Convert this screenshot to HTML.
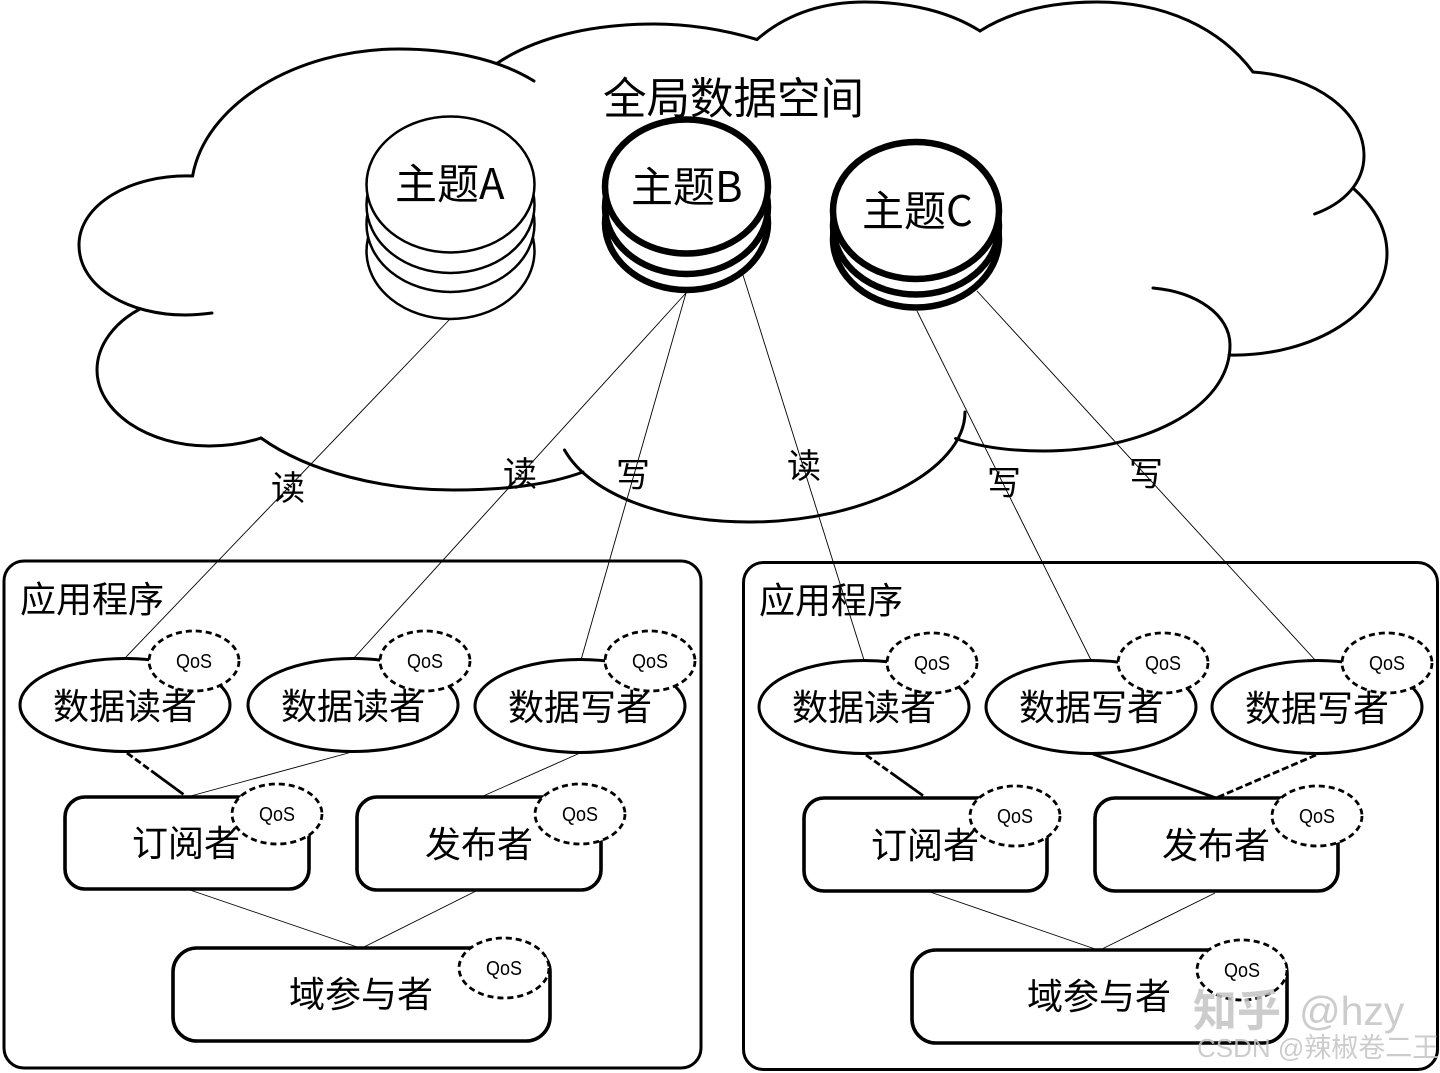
<!DOCTYPE html>
<html lang="zh">
<head>
<meta charset="utf-8">
<title>全局数据空间</title>
<style>
html,body{margin:0;padding:0;background:#fff;width:1440px;height:1073px;overflow:hidden}
svg{display:block}
text{font-family:"Liberation Sans","Noto Sans CJK SC",sans-serif;fill:#000}
.cjk{font-family:"Noto Sans CJK SC","Liberation Sans",sans-serif}
.q{font-size:20px;text-anchor:middle}
.o{fill:#fff;stroke:#000;stroke-width:3}
.r{fill:#fff;stroke:#000;stroke-width:3.6}
.d{fill:#fff;stroke:#000;stroke-width:2.8;stroke-dasharray:6 4}
.t{fill:none;stroke:#000;stroke-width:.9}
.c{fill:none;stroke:#000;stroke-width:3;stroke-linecap:round}
.n{font-size:36px}
.l{font-size:34px}
.wm{fill:#c4c4c4;opacity:.85}
</style>
</head>
<body>
<svg width="1440" height="1073" viewBox="0 0 1440 1073" xmlns="http://www.w3.org/2000/svg">
<rect width="1440" height="1073" fill="#fff"/>

<!-- cloud -->
<g class="c">
<path d="M534 81C495 57 445 49 399 49C295 49 205 105 192.600 176"/>
<path d="M192.600 176C130 174 79 205 79 245C79 288 130 315 185 315C195 315 204 314 212 313"/>
<path d="M140 309C115 322 97 345 97 370C97 412 148 446 209 446C228 446 246 443 261 438"/>
<path d="M261 438C310 473 385 490 453 490C500 490 545 486 583 472"/>
<path d="M564.500 450C590 495 665 522 750 522C865 522 965 470 965 412"/>
<path d="M955.600 438.500C980 447 1010 451 1043.600 451C1140 451 1230 410 1230 345C1230 315 1197 292 1153 288"/>
<path d="M1229 355C1315 357 1387 310 1387 253.500C1387 230 1375 208 1354 189"/>
<path d="M1314.600 214C1345 203 1364 182 1364 155.500C1364 112 1315 76 1253 72"/>
<path d="M1253 72C1220 28 1165 2 1097 2C1050 2 1010 12 980 31"/>
<path d="M980 31C950 12 910 2 865 2C820 2 785 15 757 39.500"/>
<path d="M757 39.500C725 30 690 24 654 24C590 24 535 38 497.500 63"/>
</g>

<!-- panels -->
<rect x="4" y="561" width="697" height="507" rx="20" fill="none" stroke="#000" stroke-width="3"/>
<rect x="743.500" y="562.500" width="694" height="507" rx="20" fill="none" stroke="#000" stroke-width="3"/>

<!-- thin connectors -->
<g class="t">
<line x1="450" y1="319" x2="125" y2="658"/>
<line x1="686" y1="293" x2="354" y2="658"/>
<line x1="686" y1="293" x2="581" y2="660"/>
<line x1="743" y1="275" x2="864" y2="660"/>
<line x1="917" y1="311" x2="1091" y2="660"/>
<line x1="977" y1="291" x2="1316" y2="661"/>
<line x1="352" y1="752" x2="187" y2="797"/>
<line x1="580" y1="753" x2="481" y2="797"/>
<line x1="190" y1="890" x2="360" y2="948"/>
<line x1="476" y1="891" x2="362" y2="948"/>
<line x1="930" y1="892" x2="1098" y2="950"/>
<line x1="1215" y1="893" x2="1100" y2="950"/>
</g>
<g fill="none" stroke="#000" stroke-width="2.800">
<line x1="127" y1="753" x2="187" y2="797" stroke-dasharray="7 3 7 3 7 3 40"/>
<line x1="866" y1="755" x2="925" y2="797" stroke-dasharray="7 3 7 3 7 3 40"/>
<line x1="1093" y1="754" x2="1216" y2="798"/>
<line x1="1316" y1="755" x2="1216" y2="798" stroke-dasharray="7 3"/>
</g>

<!-- topic A -->
<g fill="#fff" stroke="#000" stroke-width="2.500">
<ellipse cx="450.500" cy="251" rx="84" ry="68"/>
<ellipse cx="450.500" cy="224" rx="84" ry="68"/>
<ellipse cx="450.500" cy="205" rx="84" ry="68"/>
<ellipse cx="450.500" cy="184.500" rx="84" ry="68"/>
</g>
<!-- topic B -->
<g fill="#fff" stroke="#000" stroke-width="6.500">
<ellipse cx="686.500" cy="223" rx="81.500" ry="67"/>
<ellipse cx="686.500" cy="207" rx="81.500" ry="67"/>
<ellipse cx="686.500" cy="186.500" rx="81.500" ry="67"/>
</g>
<!-- topic C -->
<g fill="#fff" stroke="#000" stroke-width="6.500">
<ellipse cx="916" cy="239" rx="83" ry="68.500"/>
<ellipse cx="916" cy="226" rx="83" ry="68.500"/>
<ellipse cx="916" cy="210.500" rx="83" ry="68.500"/>
</g>

<!-- left panel nodes -->
<ellipse class="o" cx="125" cy="705" rx="105" ry="46.500"/>
<ellipse class="o" cx="353" cy="705" rx="105" ry="46.500"/>
<ellipse class="o" cx="580" cy="706" rx="105" ry="46.500"/>
<ellipse class="d" cx="194" cy="661" rx="45" ry="30"/>
<ellipse class="d" cx="425" cy="661" rx="45" ry="30"/>
<ellipse class="d" cx="650" cy="661" rx="45" ry="30"/>
<rect class="r" x="65" y="797" width="244" height="92" rx="20"/>
<rect class="r" x="357" y="797" width="244" height="93" rx="20"/>
<rect class="r" x="173" y="948" width="377" height="93" rx="24"/>
<ellipse class="d" cx="277" cy="814" rx="45" ry="30"/>
<ellipse class="d" cx="580" cy="814" rx="45" ry="30"/>
<ellipse class="d" cx="504" cy="968" rx="45" ry="30"/>

<!-- right panel nodes -->
<ellipse class="o" cx="864" cy="707" rx="105" ry="46.500"/>
<ellipse class="o" cx="1091" cy="707" rx="105" ry="46.500"/>
<ellipse class="o" cx="1317" cy="707" rx="105" ry="46.500"/>
<ellipse class="d" cx="932" cy="663" rx="45" ry="30"/>
<ellipse class="d" cx="1163" cy="663" rx="45" ry="30"/>
<ellipse class="d" cx="1387" cy="663" rx="45" ry="30"/>
<rect class="r" x="804" y="798" width="243" height="93" rx="20"/>
<rect class="r" x="1095" y="798" width="243" height="93" rx="20"/>
<rect class="r" x="912" y="950" width="375" height="93" rx="24"/>
<ellipse class="d" cx="1015" cy="816" rx="45" ry="30"/>
<ellipse class="d" cx="1317" cy="816" rx="45" ry="30"/>
<ellipse class="d" cx="1242" cy="970" rx="45" ry="30"/>

<!-- cloud and topic labels -->
<text class="cjk" x="603" y="114" font-size="43.500">全局数据空间</text>
<text class="cjk" x="395" y="199" font-size="42">主题A</text>
<text class="cjk" x="631" y="202" font-size="42">主题B</text>
<text class="cjk" x="862" y="226" font-size="42">主题C</text>

<!-- edge labels -->
<text class="cjk l" x="271" y="500">读</text>
<text class="cjk l" x="503" y="486">读</text>
<text class="cjk l" x="616" y="487">写</text>
<text class="cjk l" x="787" y="478">读</text>
<text class="cjk l" x="987" y="495">写</text>
<text class="cjk l" x="1129" y="486">写</text>

<!-- node labels -->
<text class="cjk n" x="20" y="612">应用程序</text>
<text class="cjk n" x="759" y="613">应用程序</text>
<text class="cjk n" x="53" y="719">数据读者</text>
<text class="cjk n" x="281" y="719">数据读者</text>
<text class="cjk n" x="508" y="720">数据写者</text>
<text class="cjk n" x="792" y="720">数据读者</text>
<text class="cjk n" x="1019" y="720">数据写者</text>
<text class="cjk n" x="1245" y="721">数据写者</text>
<text class="cjk n" x="132" y="856">订阅者</text>
<text class="cjk n" x="425" y="857">发布者</text>
<text class="cjk n" x="871" y="858">订阅者</text>
<text class="cjk n" x="1162" y="858">发布者</text>
<text class="cjk n" x="289" y="1007">域参与者</text>
<text class="cjk n" x="1027" y="1009">域参与者</text>

<!-- QoS -->
<text class="q" x="194" y="668" textLength="36" lengthAdjust="spacingAndGlyphs">QoS</text>
<text class="q" x="425" y="668" textLength="36" lengthAdjust="spacingAndGlyphs">QoS</text>
<text class="q" x="650" y="668" textLength="36" lengthAdjust="spacingAndGlyphs">QoS</text>
<text class="q" x="277" y="821" textLength="36" lengthAdjust="spacingAndGlyphs">QoS</text>
<text class="q" x="580" y="821" textLength="36" lengthAdjust="spacingAndGlyphs">QoS</text>
<text class="q" x="504" y="975" textLength="36" lengthAdjust="spacingAndGlyphs">QoS</text>
<text class="q" x="932" y="670" textLength="36" lengthAdjust="spacingAndGlyphs">QoS</text>
<text class="q" x="1163" y="670" textLength="36" lengthAdjust="spacingAndGlyphs">QoS</text>
<text class="q" x="1387" y="670" textLength="36" lengthAdjust="spacingAndGlyphs">QoS</text>
<text class="q" x="1015" y="823" textLength="36" lengthAdjust="spacingAndGlyphs">QoS</text>
<text class="q" x="1317" y="823" textLength="36" lengthAdjust="spacingAndGlyphs">QoS</text>
<text class="q" x="1242" y="977" textLength="36" lengthAdjust="spacingAndGlyphs">QoS</text>

<!-- watermark -->
<text class="cjk wm" x="1193" y="1026" font-size="44" font-weight="700">知乎</text>
<text class="wm" x="1299" y="1025" font-size="41">@hzy</text>
<text class="wm" x="1197" y="1057" font-size="26">CSDN @<tspan class="cjk" font-size="27">辣椒卷二王</tspan></text>
</svg>
</body>
</html>
